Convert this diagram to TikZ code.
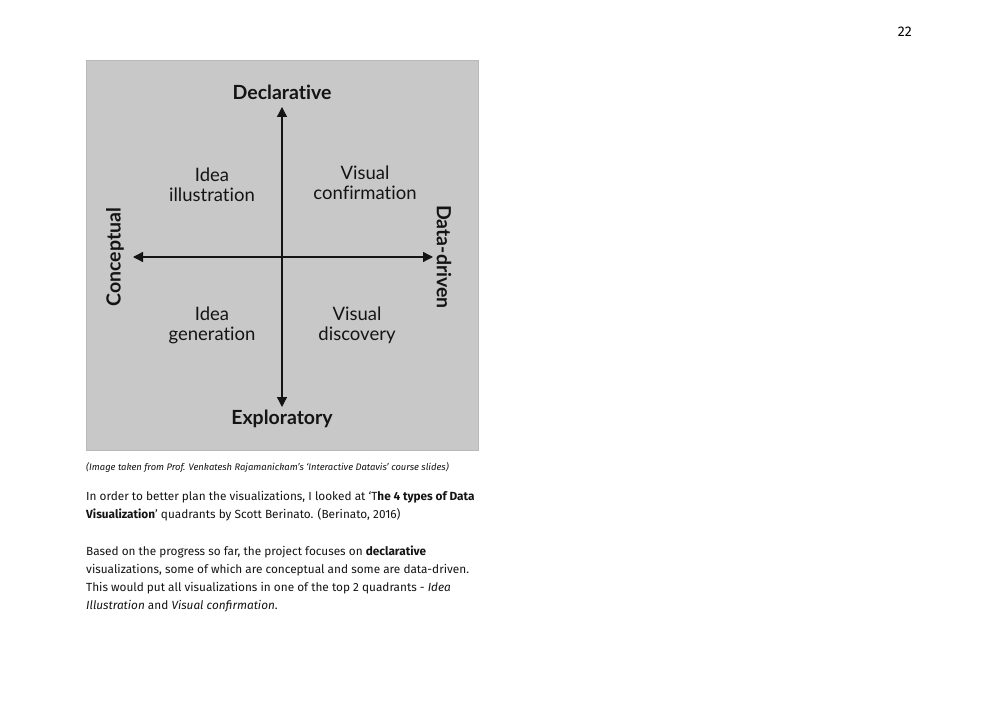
\documentclass[tikz,border=0pt]{standalone}
\usepackage{fontspec}
\setmainfont{Fira Sans}
\newfontfamily\chartfont[Ligatures=NoCommon]{Lato}
\usetikzlibrary{arrows.meta}
\definecolor{panelgray}{RGB}{200,200,200}
\definecolor{paneledge}{RGB}{185,185,185}
\definecolor{inkdark}{RGB}{20,20,20}
\tikzset{
  axis/.style={line width=1.3pt, draw=inkdark, {Triangle[length=10pt,width=10pt]}-{Triangle[length=10pt,width=10pt]}},
  axislabel/.style={font=\chartfont\bfseries\fontsize{19.5}{22}\selectfont, text=inkdark, inner sep=0pt},
  quadlabel/.style={font=\chartfont\fontsize{18.5}{20}\selectfont, text=inkdark, align=center, inner sep=0pt},
  bodyline/.style={anchor=base west, inner sep=0pt, font=\fontsize{11.8}{18}\selectfont, text=inkdark},
  captionline/.style={anchor=base west, inner sep=0pt, font=\itshape\fontsize{9.4}{10}\selectfont, text=inkdark}
}
\begin{document}
\begin{tikzpicture}[x=1pt,y=-1pt]
\useasboundingbox[fill=white] (0,0) rectangle (1000,708);
% page number
\node[anchor=base east, inner sep=0pt, font=\fontsize{14}{16}\selectfont] (pagenum) at (912,37) {22};
% panel
\node[draw=paneledge, fill=panelgray, minimum width=392pt, minimum height=390pt, inner sep=0pt, anchor=north west] (panel) at (86,60) {};
% axis end points
\coordinate (top) at (282,107);
\coordinate (bottom) at (282,407);
\coordinate (left) at (133,257);
\coordinate (right) at (433,257);
\draw[axis] (bottom) -- (top);
\draw[axis] (left) -- (right);
% axis labels
\node[axislabel] (decl) at (282,92) {Declarative};
\node[axislabel] (expl) at (282,419) {Exploratory};
\node[axislabel, rotate=90] (conc) at (115,257) {Conceptual};
\node[axislabel, rotate=-90] (data) at (444,257) {Data-driven};
% quadrant labels
\node[quadlabel] (q1) at (212,185) {Idea\\illustration};
\node[quadlabel] (q2) at (365,183) {Visual\\confirmation};
\node[quadlabel] (q3) at (212,325) {Idea\\generation};
\node[quadlabel] (q4) at (357,325) {Visual\\discovery};
% caption
\node[captionline] (cap) at (86,470) {(Image taken from Prof. Venkatesh Rajamanickam’s ‘Interactive Datavis’ course slides)};
% body text
\node[bodyline] (l1) at (86,500) {In order to better plan the visualizations, I looked at ‘T\textbf{he 4 types of Data}};
\node[bodyline] (l2) at (86,518) {\textbf{Visualization}’ quadrants by Scott Berinato. (Berinato, 2016)};
\node[bodyline] (l3) at (86,555) {Based on the progress so far, the project focuses on \textbf{declarative}};
\node[bodyline] (l4) at (86,573) {visualizations, some of which are conceptual and some are data-driven.};
\node[bodyline] (l5) at (86,591) {This would put all visualizations in one of the top 2 quadrants - \textit{Idea}};
\node[bodyline] (l6) at (86,609) {\textit{Illustration} and \textit{Visual confirmation}.};
\end{tikzpicture}
\end{document}
